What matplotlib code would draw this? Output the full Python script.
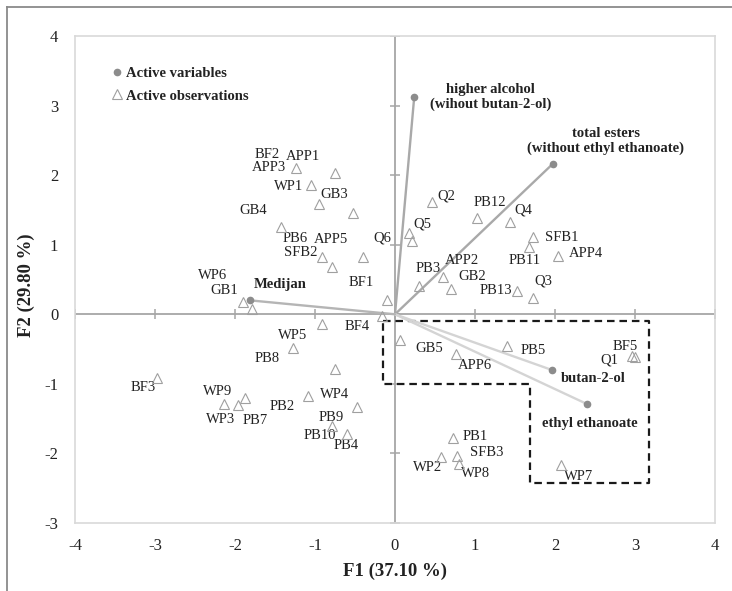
import matplotlib
matplotlib.use("Agg")
import matplotlib.pyplot as plt
from matplotlib.lines import Line2D

plt.rcParams['font.family'] = ['Liberation Serif', 'DejaVu Serif']
plt.rcParams['axes.unicode_minus'] = False

# ── Observations (F1, F2 scores) ───────────────────────────────────────────────
OBS_NAMES = [
    "APP3", "APP1", "WP1", "GB3", "BF2", "GB4", "SFB2", "PB6", "APP5", "BF1",
    "WP6", "GB1",
    "Q2", "PB12", "Q4", "Q5", "Q6", "SFB1", "PB11", "APP4", "PB3", "APP2",
    "GB2", "PB13", "Q3",
    "BF4", "WP5", "PB8", "WP4", "BF3", "WP9", "WP3", "PB7", "PB2", "PB9",
    "PB10", "PB4",
    "GB5", "APP6", "PB5", "BF5", "Q1", "PB1", "WP2", "SFB3", "WP8", "WP7",
]
OBS_F1 = [
    -1.24, -0.75, -1.05, -0.95, -0.52, -1.42, -0.91, -0.79, -0.40, -0.10,
    -1.90, -1.79,
    0.46, 1.03, 1.44, 0.18, 0.21, 1.73, 1.68, 2.04, 0.30, 0.60,
    0.70, 1.53, 1.73,
    -0.16, -0.91, -1.27, -0.75, -2.97, -1.87, -2.14, -1.96, -1.09, -0.47,
    -0.79, -0.60,
    0.06, 0.76, 1.40, 2.96, 3.00, 0.72, 0.58, 0.78, 0.80, 2.08,
]
OBS_F2 = [
    2.10, 2.03, 1.86, 1.58, 1.46, 1.25, 0.82, 0.68, 0.82, 0.21,
    0.18, 0.08,
    1.61, 1.39, 1.32, 1.17, 1.05, 1.11, 0.97, 0.84, 0.41, 0.53,
    0.37, 0.34, 0.24,
    -0.02, -0.14, -0.48, -0.79, -0.92, -1.20, -1.29, -1.30, -1.17, -1.33,
    -1.60, -1.72,
    -0.37, -0.57, -0.46, -0.60, -0.61, -1.78, -2.05, -2.03, -2.15, -2.17,
]

# ── Active variables (loadings, scaled) ───────────────────────────────────────
VAR_NAMES = ["higher alcohol\n(wihout butan-2-ol)",
             "total esters\n(without ethyl ethanoate)",
             "butan-2-ol", "ethyl ethanoate", "Medijan"]
VAR_F1 = [0.24, 1.97, 1.96, 2.40, -1.81]
VAR_F2 = [3.12, 2.16, -0.80, -1.29, 0.20]

# highlighted region (dashed outline)
BOX_F1 = [-0.15, 3.17, 3.17, 1.69, 1.69, -0.15, -0.15]
BOX_F2 = [-0.09, -0.09, -2.43, -2.43, -1.00, -1.00, -0.09]

X_TICKS = list(range(-4, 5))
Y_TICKS = list(range(-3, 5))

# label offsets in pixels (right, down) from the marker
OBS_OFF = {
    "APP3": (-27, -1), "APP1": (-32, -17), "WP1": (-22, 2), "GB3": (15, -10),
    "BF2": (-86, -58), "GB4": (-28, -17), "SFB2": (-22, -5), "PB6": (-37, -28),
    "APP5": (-32, -18), "BF1": (-26, -17), "WP6": (-30, -26), "GB1": (-28, -18),
    "Q2": (15, -6), "PB12": (12, -15), "Q4": (13, -12), "Q5": (13, -9),
    "Q6": (-29, -3), "SFB1": (28, 0), "PB11": (-5, 14), "APP4": (28, -2),
    "PB3": (9, -17), "APP2": (19, -17), "GB2": (21, -12), "PB13": (-21, 0),
    "Q3": (10, -17),
    "BF4": (-25, 11), "WP5": (-30, 11), "PB8": (-26, 11), "WP4": (0, 25),
    "BF3": (-14, 9), "WP9": (-28, -6), "WP3": (-3, 15), "PB7": (17, 16),
    "PB2": (-26, 11), "PB9": (-26, 11), "PB10": (-12, 10), "PB4": (-1, 12),
    "GB5": (29, 8), "APP6": (19, 12), "PB5": (26, 4), "BF5": (-7, -10),
    "Q1": (-26, 3), "PB1": (23, -2), "WP2": (-14, 11), "SFB3": (29, -3),
    "WP8": (17, 10), "WP7": (17, 11),
}
VAR_OFF = [(76, 0), (53, -23), (41, 9), (3, 19), (30, -16)]
VAR_LINE = ["#a9a9a9", "#a9a9a9", "#d4d4d4", "#d4d4d4", "#b5b5b5"]

C_AXIS = "#a6a6a6"
C_TEXT = "#222222"

W, H = 732, 591
fig = plt.figure(figsize=(W / 100, H / 100), dpi=100)
ax = fig.add_axes([75 / W, 1 - 523 / H, 640 / W, 487 / H])

# zero lines with crossing ticks
ax.axhline(0, color=C_AXIS, lw=1.3, zorder=1)
ax.axvline(0, color=C_AXIS, lw=1.3, zorder=1)
ax.plot(X_TICKS, [0] * len(X_TICKS), ls="none", marker="|", ms=7,
        mew=1.1, color=C_AXIS, zorder=1)
ax.plot([0] * len(Y_TICKS), Y_TICKS, ls="none", marker="_", ms=7,
        mew=1.1, color=C_AXIS, zorder=1)

# dashed highlight box
ax.plot(BOX_F1, BOX_F2, color="#1a1a1a", lw=1.6,
        linestyle=(0, (3.4, 2.2)), zorder=2)

# variable vectors
for name, x, y, col, (dx, dy) in zip(VAR_NAMES, VAR_F1, VAR_F2, VAR_LINE, VAR_OFF):
    ax.plot([0, x], [0, y], color=col, lw=1.7, zorder=3, solid_capstyle="round")
    ax.plot(x, y, "o", ms=4.5, color="#8c8c8c", mec="#8c8c8c", zorder=4)
    ax.annotate(name, (x, y), xytext=(dx, -dy), textcoords="offset pixels",
                ha="center", va="center", fontsize=10.5, fontweight="bold",
                color=C_TEXT, linespacing=1.15)

# observations
ax.plot(OBS_F1, OBS_F2, ls="none", marker="^", ms=7, mfc="none",
        mec="#a0a0a0", mew=0.8, zorder=5)
for name, x, y in zip(OBS_NAMES, OBS_F1, OBS_F2):
    dx, dy = OBS_OFF[name]
    ax.annotate(name, (x, y), xytext=(dx, -dy), textcoords="offset pixels",
                ha="center", va="center", fontsize=10.5, color=C_TEXT)

ax.set_xlim(-4, 4)
ax.set_ylim(-3, 4)
ax.set_xticks(X_TICKS)
ax.set_yticks(Y_TICKS)
ax.tick_params(length=0, labelsize=12, colors=C_TEXT)
ax.tick_params(axis="x", pad=11)
ax.tick_params(axis="y", pad=12)
for s in ax.spines.values():
    s.set_color("#d9d9d9")
    s.set_linewidth(1.2)

# legend
handles = [
    Line2D([0], [0], ls="none", marker="o", ms=4.5, color="#8c8c8c"),
    Line2D([0], [0], ls="none", marker="^", ms=7, mfc="none",
           mec="#a0a0a0", mew=0.8),
]
leg = ax.legend(handles, ["Active variables", "Active observations"],
                loc="upper left", bbox_to_anchor=(0.045, 0.952), frameon=False,
                borderpad=0, handlelength=0.8, handletextpad=0.2,
                labelspacing=0.65, prop={"size": 10.5, "weight": "bold"})
for t in leg.get_texts():
    t.set_color(C_TEXT)

# axis titles
fig.text(395 / W, 1 - 571 / H, "F1 (37.10 %)", ha="center", va="center",
         fontsize=13.5, fontweight="bold", color=C_TEXT)
fig.text(26 / W, 1 - 285 / H, "F2 (29.80 %)", ha="center", va="center",
         rotation=90, fontsize=13.5, fontweight="bold", color=C_TEXT)

# outer frame (left and top edges)
fig.add_artist(Line2D([7 / W, 7 / W], [0, 1 - 7 / H], color="#8a8a8a", lw=1.3))
fig.add_artist(Line2D([7 / W, 1], [1 - 7 / H, 1 - 7 / H], color="#8a8a8a", lw=1.3))

fig.savefig("out.png", dpi=100)
